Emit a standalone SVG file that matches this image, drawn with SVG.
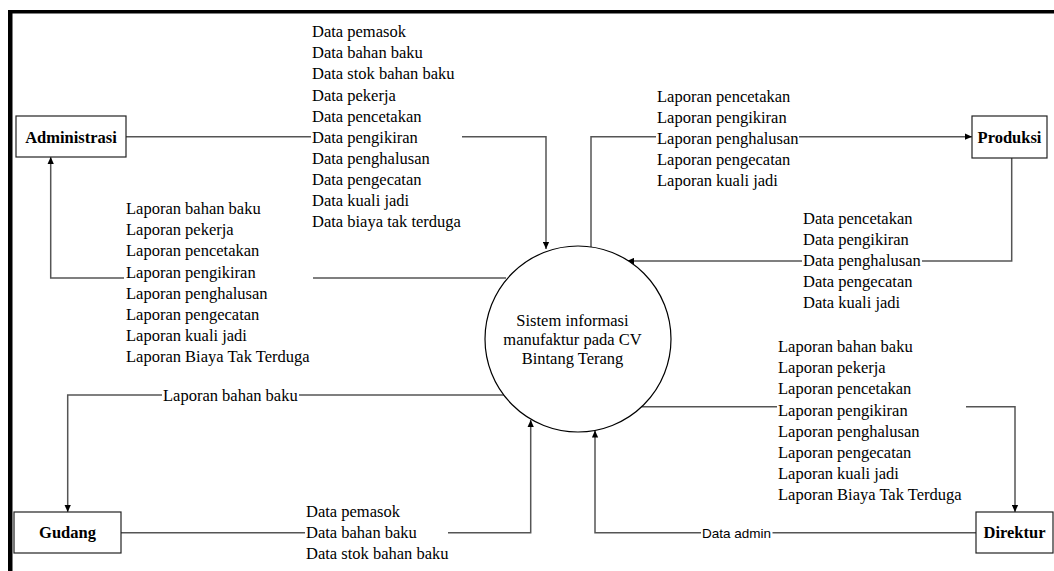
<svg xmlns="http://www.w3.org/2000/svg" width="1054" height="571" viewBox="0 0 1054 571">
<style>
.lbl{font-family:"Liberation Serif","Times New Roman",serif;font-size:16.5px;fill:#000}
.nm{font-family:"Liberation Serif","Times New Roman",serif;font-size:16.5px;font-weight:bold;fill:#000;text-anchor:middle}
.ctr{font-family:"Liberation Serif","Times New Roman",serif;font-size:16.5px;fill:#000;text-anchor:middle}
.sans{font-family:"Liberation Sans",Arial,sans-serif;font-size:13.5px;fill:#000}
.box{fill:#fff;stroke:#222;stroke-width:1.2}
.c{fill:none;stroke:#555;stroke-width:1.5}
.ca{fill:none;stroke:#555;stroke-width:1.5;marker-end:url(#ah)}
</style>
<defs>
<marker id="ah" viewBox="0 0 10 10" refX="10" refY="5" markerWidth="7" markerHeight="7" orient="auto" markerUnits="userSpaceOnUse">
<path d="M0,0.5 L10,5 L0,9.5 z" fill="#000"/>
</marker>
</defs>
<rect width="1054" height="571" fill="#fff"/>
<rect x="8" y="10" width="1046" height="3.5" fill="#000"/>
<rect x="8" y="10" width="4.5" height="561" fill="#000"/>

<g id="connectors">
<path class="c" d="M126,136.7 H311"/>
<path class="ca" d="M462,136.7 H546 V249"/>
<path class="c" d="M591,247 V136.7 H656"/>
<path class="ca" d="M799,136.7 H972"/>
<path class="c" d="M1011.7,158 V261 H922"/>
<path class="ca" d="M802,261 H627"/>
<path class="c" d="M506,278 H313"/>
<path class="ca" d="M124,278 H50.7 V157"/>
<path class="c" d="M504,395 H299"/>
<path class="ca" d="M162,395 H67.7 V512"/>
<path class="c" d="M121,532.7 H305"/>
<path class="ca" d="M448,532.7 H530.7 V420"/>
<path class="c" d="M976,532.7 H772.5"/>
<path class="ca" d="M701,532.7 H595 V430.5"/>
<path class="c" d="M641.5,406.7 H777"/>
<path class="ca" d="M966,406.7 H1015 V512"/>

<g class="lbl">
<text x="312" y="37.2">Data pemasok</text>
<text x="312" y="58.3">Data bahan baku</text>
<text x="312" y="79.4">Data stok bahan baku</text>
<text x="312" y="100.5">Data pekerja</text>
<text x="312" y="121.6">Data pencetakan</text>
<text x="312" y="142.7">Data pengikiran</text>
<text x="312" y="163.8">Data penghalusan</text>
<text x="312" y="184.9">Data pengecatan</text>
<text x="312" y="206">Data kuali jadi</text>
<text x="312" y="227.1">Data biaya tak terduga</text>

<text x="657" y="101.5">Laporan pencetakan</text>
<text x="657" y="122.5">Laporan pengikiran</text>
<text x="657" y="143.5">Laporan penghalusan</text>
<text x="657" y="164.5">Laporan pengecatan</text>
<text x="657" y="185.5">Laporan kuali jadi</text>

<text x="803" y="223.8">Data pencetakan</text>
<text x="803" y="244.9">Data pengikiran</text>
<text x="803" y="266">Data penghalusan</text>
<text x="803" y="287.1">Data pengecatan</text>
<text x="803" y="308.2">Data kuali jadi</text>

<text x="126" y="214">Laporan bahan baku</text>
<text x="126" y="235.2">Laporan pekerja</text>
<text x="126" y="256.4">Laporan pencetakan</text>
<text x="126" y="277.6">Laporan pengikiran</text>
<text x="126" y="298.8">Laporan penghalusan</text>
<text x="126" y="320">Laporan pengecatan</text>
<text x="126" y="341.2">Laporan kuali jadi</text>
<text x="126" y="362.4">Laporan Biaya Tak Terduga</text>

<text x="163" y="400.5">Laporan bahan baku</text>

<text x="306" y="517.2">Data pemasok</text>
<text x="306" y="538.2">Data bahan baku</text>
<text x="306" y="559">Data stok bahan baku</text>

<text x="778" y="352">Laporan bahan baku</text>
<text x="778" y="373.2">Laporan pekerja</text>
<text x="778" y="394.4">Laporan pencetakan</text>
<text x="778" y="415.6">Laporan pengikiran</text>
<text x="778" y="436.8">Laporan penghalusan</text>
<text x="778" y="458">Laporan pengecatan</text>
<text x="778" y="479.2">Laporan kuali jadi</text>
<text x="778" y="500.4">Laporan Biaya Tak Terduga</text>
</g>
<text class="sans" x="702" y="537.5">Data admin</text>
</g>

<g id="administrasi">
<rect class="box" x="16" y="116" width="110" height="41"/>
<text class="nm" x="71" y="142.5">Administrasi</text>
</g>
<g id="produksi">
<rect class="box" x="972" y="116" width="75" height="42"/>
<text class="nm" x="1009.5" y="142.5">Produksi</text>
</g>
<g id="gudang">
<rect class="box" x="14" y="512" width="107" height="41"/>
<text class="nm" x="67.5" y="538">Gudang</text>
</g>
<g id="direktur">
<rect class="box" x="976" y="512" width="77" height="41"/>
<text class="nm" x="1014.5" y="538">Direktur</text>
</g>
<g id="sistem">
<circle cx="578" cy="339" r="93" fill="#fff" stroke="#000" stroke-width="1.2"/>
<text class="ctr" x="572.5" y="325.5">Sistem informasi</text>
<text class="ctr" x="572.5" y="344.5">manufaktur pada CV</text>
<text class="ctr" x="572.5" y="363.5">Bintang Terang</text>
</g>
</svg>
